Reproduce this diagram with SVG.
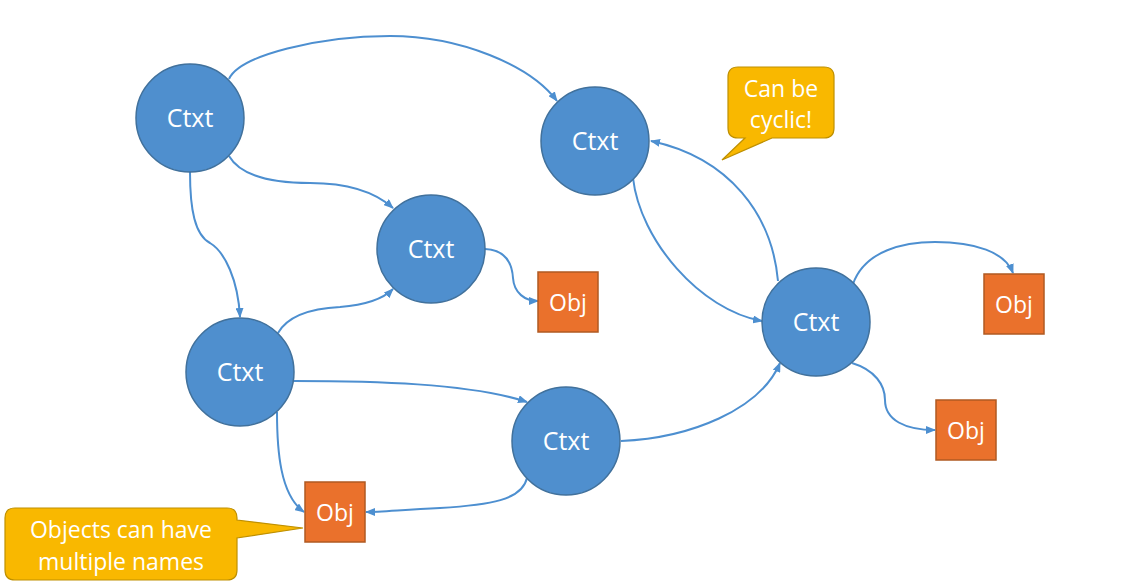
<svg xmlns="http://www.w3.org/2000/svg" width="1131" height="585" viewBox="0 0 1131 585">
<style>
.ctx{fill:#4F8FCE;stroke:#41719C;stroke-width:1.5}
.obj{fill:#EA712C;stroke:#B05A22;stroke-width:1.5}
.call{fill:#F9B800;stroke:#BF9000;stroke-width:1.2}
.t{font-family:"Open Sans","Liberation Sans",sans-serif;fill:#fff;text-anchor:middle}
.tc{font-size:25px}
.to{font-size:23px}
.tk{font-size:23px}
.e{fill:none;stroke:#4D8FD0;stroke-width:2;marker-end:url(#ah)}
</style>
<defs>
<marker id="ah" viewBox="0 0 10 8" refX="9" refY="4" markerWidth="5" markerHeight="4" orient="auto" markerUnits="strokeWidth">
<path d="M0,0 L10,4 L0,8 z" fill="#4D8FD0"/>
</marker>
</defs>
<rect width="1131" height="585" fill="#fff"/>
<g id="connectors">
<path class="e" d="M229,79 C240,55 320,36 390,36 C460,36 530,65 557,101"/>
<path class="e" d="M229,156 C240,175 270,183 310,183 C350,183 375,192 393,208"/>
<path class="e" d="M190,172 C190,210 195,235 210,243 C225,252 238,280 240,317"/>
<path class="e" d="M278,333 C290,312 320,308 340,307 C365,305 382,300 393,289"/>
<path class="e" d="M485,249 C505,250 512,262 513,278 C514,293 525,301 538,301"/>
<path class="e" d="M633,178 C640,240 700,310 762,321"/>
<path class="e" d="M778,281 C772,215 730,158 651,141"/>
<path class="e" d="M294,381 C370,381 470,383 527,402"/>
<path class="e" d="M277,412 C277,450 280,495 304,512"/>
<path class="e" d="M527,478 C522,500 490,505 440,508 C400,510 380,512 366,512"/>
<path class="e" d="M621,441 C690,438 760,410 780,363"/>
<path class="e" d="M853,284 C865,250 905,242 935,242 C975,242 1005,252 1013,273"/>
<path class="e" d="M852,363 C875,370 885,385 885,400 C885,420 905,430 935,430"/>
</g>
<g id="ctx1"><circle class="ctx" cx="190" cy="118" r="54"/><text class="t tc" x="190" y="127">Ctxt</text></g>
<g id="ctx2"><circle class="ctx" cx="595" cy="141" r="54"/><text class="t tc" x="595" y="150">Ctxt</text></g>
<g id="ctx3"><circle class="ctx" cx="431" cy="249" r="54"/><text class="t tc" x="431" y="258">Ctxt</text></g>
<g id="ctx4"><circle class="ctx" cx="240" cy="372" r="54"/><text class="t tc" x="240" y="381">Ctxt</text></g>
<g id="ctx5"><circle class="ctx" cx="566" cy="441" r="54"/><text class="t tc" x="566" y="450">Ctxt</text></g>
<g id="ctx6"><circle class="ctx" cx="816" cy="322" r="54"/><text class="t tc" x="816" y="331">Ctxt</text></g>
<g id="obj1"><rect class="obj" x="538" y="272" width="60" height="60"/><text class="t to" x="568" y="311">Obj</text></g>
<g id="obj2"><rect class="obj" x="984" y="274" width="60" height="60"/><text class="t to" x="1014" y="313">Obj</text></g>
<g id="obj3"><rect class="obj" x="936" y="400" width="60" height="60"/><text class="t to" x="966" y="439">Obj</text></g>
<g id="obj4"><rect class="obj" x="305" y="482" width="60" height="60"/><text class="t to" x="335" y="521">Obj</text></g>
<g id="callout1">
<path class="call" d="M738,67 H824 Q834,67 834,77 V128 Q834,138 824,138 H772 L722,160 L745,138 H738 Q728,138 728,128 V77 Q728,67 738,67 Z"/>
<text class="t tk" x="781" y="97">Can be</text>
<text class="t tk" x="781" y="128">cyclic!</text>
</g>
<g id="callout2">
<path class="call" d="M15,508 H227 Q237,508 237,518 V520 L303,528 L237,538 V570 Q237,580 227,580 H15 Q5,580 5,570 V518 Q5,508 15,508 Z"/>
<text class="t tk" x="121" y="538">Objects can have</text>
<text class="t tk" x="121" y="570">multiple names</text>
</g>
</svg>
